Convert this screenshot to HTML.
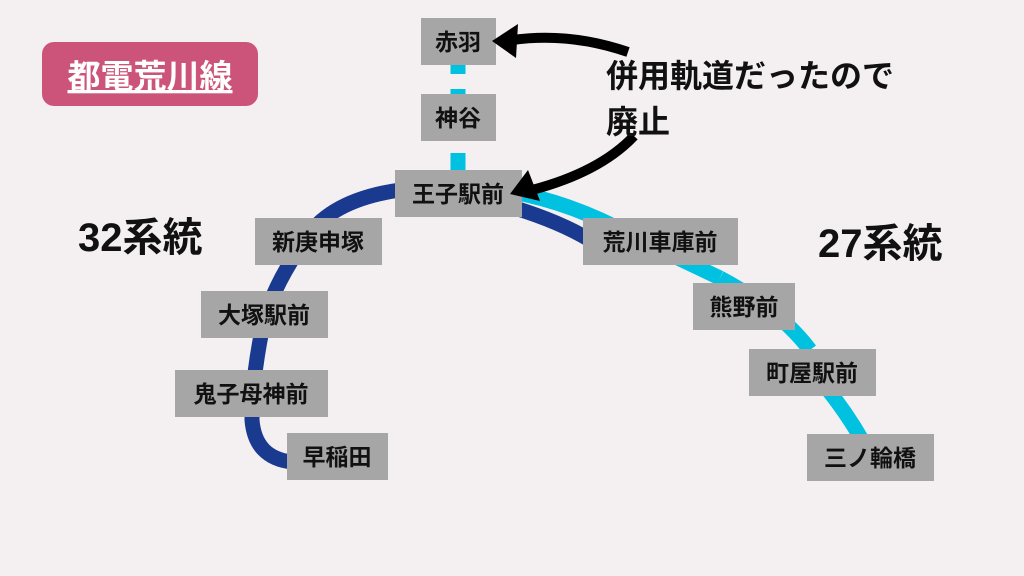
<!DOCTYPE html>
<html><head><meta charset="utf-8"><style>
html,body{margin:0;padding:0;background:#f4f0f2;}
svg{display:block}
text{font-family:"Liberation Sans","Noto Sans CJK JP",sans-serif;font-weight:bold;}
</style></head><body>
<svg width="1024" height="576" viewBox="0 0 1024 576" xmlns="http://www.w3.org/2000/svg">
<rect width="1024" height="576" fill="#f4f0f2"/>
<g stroke="#00c2e0" stroke-width="15" fill="none">
<line x1="458" y1="64" x2="458" y2="74"/>
<line x1="458" y1="89" x2="458" y2="96"/>
<line x1="458" y1="153" x2="458" y2="172"/>
<path d="M500 190 Q570 200 640 240 L720 278"/>
<path d="M720 278 Q780 310 810 350"/>
<path d="M820 380 Q845 410 862 440"/>
</g>
<g stroke="#1a3a8f" stroke-width="15" fill="none">
<path d="M400 190 Q330 200 305 240 Q270 290 262 330 Q252 380 252 420 Q255 458 292 462"/>
<path d="M515 208 Q560 222 590 240"/>
</g>
<g fill="#a6a6a6">
<rect x="421" y="18" width="75" height="47"/>
<rect x="421" y="94" width="75" height="47"/>
<rect x="395" y="170" width="127" height="47"/>
<rect x="255" y="218" width="127" height="47"/>
<rect x="201" y="291" width="127" height="47"/>
<rect x="175" y="370" width="153" height="47"/>
<rect x="287" y="433" width="101" height="47"/>
<rect x="583" y="218" width="155" height="47"/>
<rect x="693" y="283" width="102" height="47"/>
<rect x="749" y="349" width="127" height="47"/>
<rect x="807" y="434" width="127" height="47"/>
</g>
<g font-size="23" fill="#111" text-anchor="middle">
<text x="458" y="50">赤羽</text>
<text x="458" y="126">神谷</text>
<text x="458" y="202">王子駅前</text>
<text x="318" y="250">新庚申塚</text>
<text x="264" y="323">大塚駅前</text>
<text x="251" y="402">鬼子母神前</text>
<text x="337" y="465">早稲田</text>
<text x="660" y="250">荒川車庫前</text>
<text x="744" y="315">熊野前</text>
<text x="812" y="381">町屋駅前</text>
<text x="870" y="466">三ノ輪橋</text>
</g>
<g stroke="#000" stroke-width="10" fill="none">
<path d="M628 52 Q570 32 512 40"/>
<path d="M634 136 Q600 172 532 190"/>
</g>
<polygon points="492,41 518,24 516,58" fill="#000"/>
<polygon points="510,194 528,170 540,201" fill="#000"/>
<g font-size="32" fill="#111">
<text x="606" y="87">併用軌道だったので</text>
<text x="606" y="133">廃止</text>
</g>
<rect x="42" y="42" width="216" height="64" rx="12" fill="#cc547a"/>
<text x="150" y="88" font-size="33" fill="#fff" text-anchor="middle" text-decoration="underline">都電荒川線</text>
<text x="78" y="251" font-size="40" fill="#111">32系統</text>
<text x="818" y="257" font-size="40" fill="#111">27系統</text>
</svg>
</body></html>
